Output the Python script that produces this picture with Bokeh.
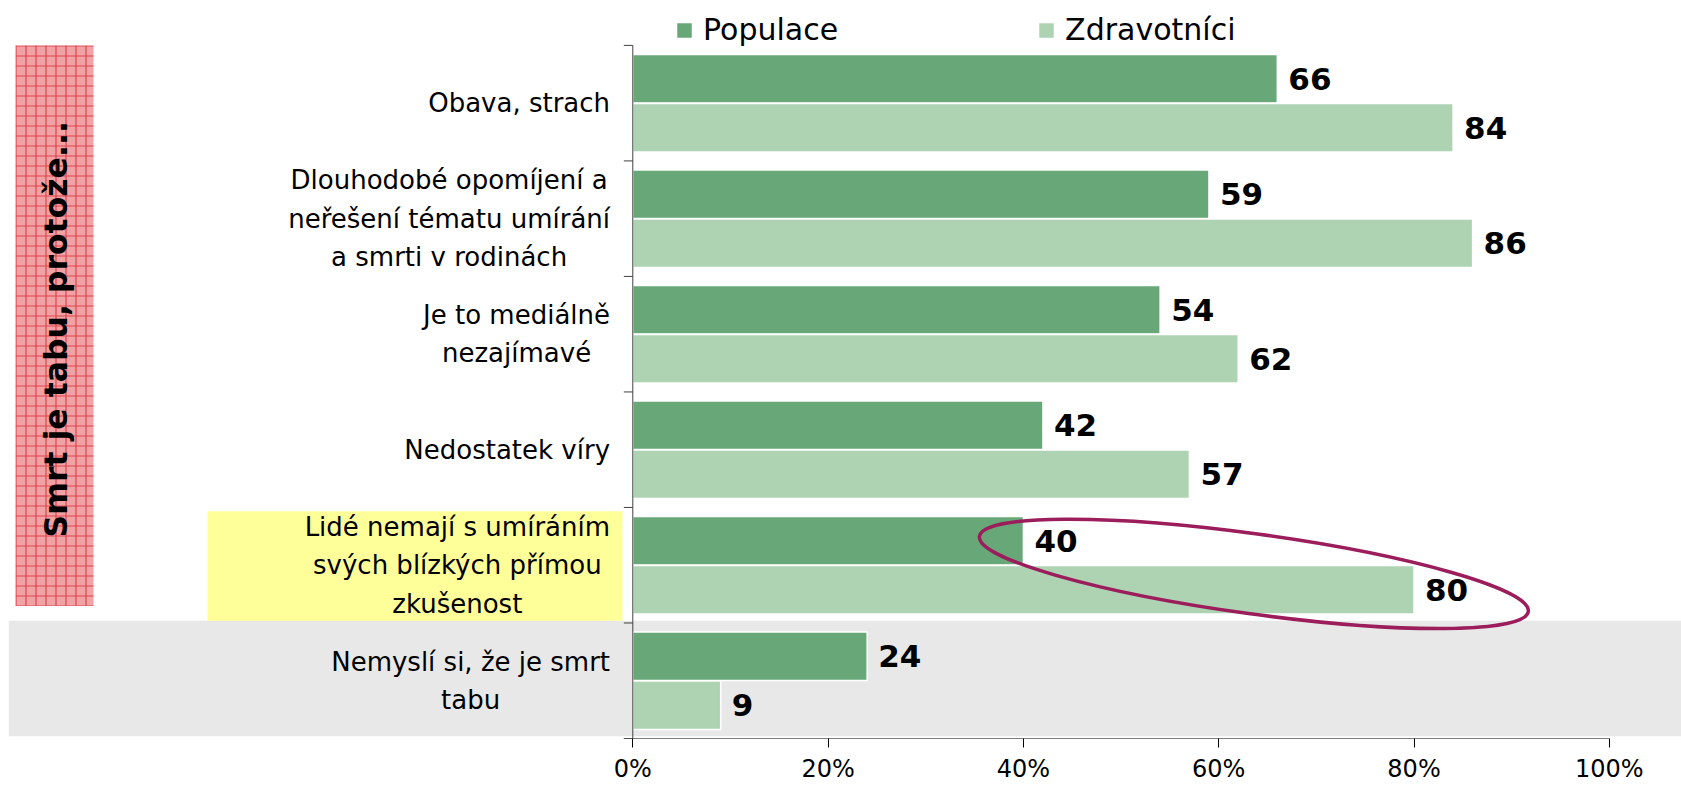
import math
from bokeh.plotting import figure
from bokeh.models import (Range1d, LinearAxis, FixedTicker, BoxAnnotation, Legend,
                          LegendItem, ColumnDataSource, PrintfTickFormatter)
from bokeh.core.properties import value
from bokeh.embed import file_html
from bokeh.resources import INLINE

# ---------------- data ----------------
categories = [
    "Obava, strach",
    "Dlouhodobé opomíjení a\nneřešení tématu umírání\na smrti v rodinách",
    "Je to mediálně\nnezajímavé",
    "Nedostatek víry",
    "Lidé nemají s umíráním\nsvých blízkých přímou\nzkušenost",
    "Nemyslí si, že je smrt\ntabu",
]
populace = [66, 59, 54, 42, 40, 24]
zdravotnici = [84, 86, 62, 57, 80, 9]
series_names = ["Populace", "Zdravotníci"]
x_ticks = [0, 20, 40, 60, 80, 100]
side_title = "Smrt je tabu, protože..."

# ---------------- styles ----------------
FONT = "DejaVu Sans"
C_POP = "#68A778"
C_ZDR = "#AED3B3"

n = len(categories)
centers = [n - i - 0.5 for i in range(n)]
OFF = 0.212
BAR_H = 0.42

src = ColumnDataSource(dict(
    cat=categories,
    yc=centers,
    y_pop=[c + OFF for c in centers],
    y_zdr=[c - OFF for c in centers],
    pop=populace,
    zdr=zdravotnici,
    pop_txt=[str(v) for v in populace],
    zdr_txt=[str(v) for v in zdravotnici],
))

p = figure(width=1681, height=785,
           x_range=Range1d(-64.75, 107.39), y_range=Range1d(0, 6.3887),
           output_backend="svg", toolbar_location=None,
           x_axis_type=None, y_axis_type=None,
           min_border_left=0, min_border_right=0, min_border_top=0,
           min_border_bottom=45)
p.outline_line_color = None
p.grid.visible = False
p.background_fill_color = "white"

# background highlight boxes
p.add_layout(BoxAnnotation(bottom=0.02, top=1.02, left=-63.9, fill_color="#E8E8E8",
                           fill_alpha=1, line_color=None, level="underlay"))
p.add_layout(BoxAnnotation(left=-43.55, right=-1.05, bottom=1.02, top=1.968,
                           fill_color="#FFFF99", fill_alpha=1, line_color=None,
                           level="underlay"))
p.add_layout(BoxAnnotation(left=-63.2, right=-55.22, bottom=1.148, top=6.0,
                           fill_color="#F0A2A4", fill_alpha=1, line_color=None,
                           hatch_pattern="+", hatch_color="#E0434D",
                           hatch_scale=10, hatch_weight=1.2, level="underlay"))

# bars
r_pop = p.hbar(y="y_pop", left=0, right="pop", height=BAR_H, source=src,
               fill_color=C_POP, line_color="white", line_width=1.5)
r_zdr = p.hbar(y="y_zdr", left=0, right="zdr", height=BAR_H, source=src,
               fill_color=C_ZDR, line_color="white", line_width=1.5)

# value labels
for ycol, xcol, tcol in (("y_pop", "pop", "pop_txt"), ("y_zdr", "zdr", "zdr_txt")):
    p.text(x=xcol, y=ycol, text=tcol, source=src, x_offset=11,
           text_align="left", text_baseline="middle",
           text_font=value(FONT), text_font_style="bold",
           text_font_size="31px", text_color="black")

# category labels
p.text(x=-2.33, y="yc", text="cat", source=src, anchor="center_right",
       text_align="center", text_baseline="middle", text_line_height=1.28,
       text_font=value(FONT), text_font_size="26px", text_color="black")

# vertical category axis line + ticks
p.segment(x0=[0], y0=[0], x1=[0], y1=[n], line_color="#404040", line_width=1)
p.segment(x0=[-0.92] * (n + 1), y0=list(range(n + 1)), x1=[0] * (n + 1),
          y1=list(range(n + 1)), line_color="#404040", line_width=1)
# horizontal value axis line
p.segment(x0=[-0.92], y0=[0], x1=[100], y1=[0], line_color="black", line_width=1)

xaxis = LinearAxis(ticker=FixedTicker(ticks=x_ticks),
                   formatter=PrintfTickFormatter(format="%d%%"))
xaxis.axis_line_color = None
xaxis.major_tick_out = 9
xaxis.major_tick_in = 0
xaxis.major_tick_line_color = "black"
xaxis.minor_tick_line_color = None
xaxis.major_label_standoff = 7
xaxis.major_label_text_font = FONT
xaxis.major_label_text_font_size = "24px"
xaxis.major_label_text_color = "black"
p.add_layout(xaxis, "below")

# highlight ellipse
p.ellipse(x=[63.6], y=[1.425], width=554, height=80, angle=-7.8 * math.pi / 180,
          width_units="screen", height_units="screen",
          fill_color=None, line_color="#9B1D5B", line_width=3.5)

# rotated side title
p.text(x=[-59.02], y=[3.542], text=[side_title], angle=math.pi / 2,
       text_align="center", text_baseline="middle",
       text_font=value(FONT), text_font_style="bold", text_font_size="31.5px",
       text_color="black")

legend = Legend(items=[LegendItem(label=series_names[0], renderers=[r_pop]),
                       LegendItem(label=series_names[1], renderers=[r_zdr])],
                orientation="horizontal", location=(674, 691),
                glyph_width=20, glyph_height=20, label_standoff=9, spacing=198,
                padding=0, margin=0, border_line_color=None,
                background_fill_alpha=0, label_text_font=FONT,
                label_text_font_size="30px", label_text_color="black")
p.add_layout(legend)

open("out.html", "w").write(file_html(p, INLINE))
